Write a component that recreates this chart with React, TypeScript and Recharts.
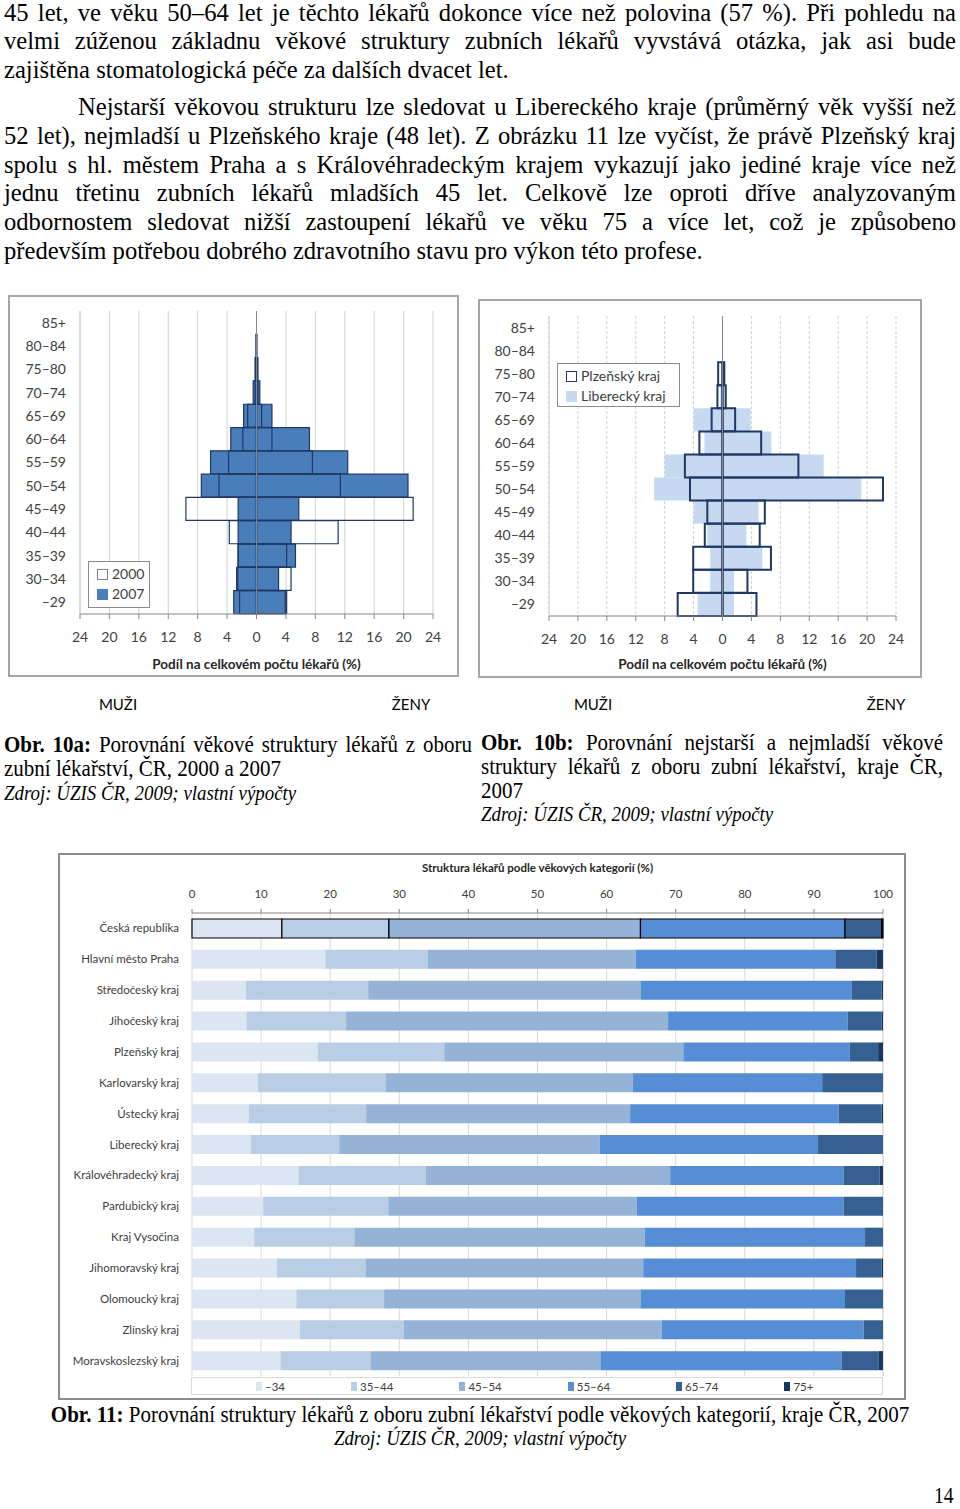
import React from "react";
import {
  Bar,
  BarChart,
  CartesianGrid,
  Cell,
  Legend,
  ReferenceLine,
  XAxis,
  YAxis,
} from "recharts";

// age groups, youngest first
const AGE_GROUPS = ["–29", "30–34", "35–39", "40–44", "45–49", "50–54", "55–59", "60–64", "65–69", "70–74", "75–80", "80–84", "85+"];
const PYRAMID_TICKS = [-24, -20, -16, -12, -8, -4, 0, 4, 8, 12, 16, 20, 24];

// Obr. 10a – ČR, % of all dentists
const MEN_2000 = [2.3, 2.55, 2.5, 3.7, 9.6, 5.1, 3.8, 1.85, 1.2, 0.2, 0.1, 0.05, 0];
const WOMEN_2000 = [3.9, 4.7, 4.1, 11.1, 21.3, 11.4, 7.6, 2.1, 0.7, 0.2, 0.05, 0, 0];
const MEN_2007 = [3.1, 2.7, 2.5, 2.5, 2.5, 7.5, 6.25, 3.5, 1.75, 0.45, 0.2, 0.05, 0];
const WOMEN_2007 = [4.1, 3.0, 5.3, 4.7, 5.75, 20.6, 12.4, 7.2, 2.1, 0.45, 0.2, 0.05, 0];

// Obr. 10b – Plzeňský vs. Liberecký kraj, 2007
const PLZEN_MEN = [6.2, 4.05, 4.05, 2.45, 2.1, 4.5, 5.2, 3.2, 1.5, 0.7, 0.6, 0, 0];
const PLZEN_WOMEN = [4.7, 3.45, 6.7, 5.15, 5.85, 22.2, 10.5, 5.35, 1.75, 0.45, 0.25, 0, 0];
const LIBEREC_MEN = [3.45, 1.7, 1.7, 2.1, 4.0, 9.45, 8.0, 2.5, 4.0, 0.3, 0.2, 0, 0];
const LIBEREC_WOMEN = [1.6, 1.6, 5.5, 3.3, 5.0, 19.2, 14.0, 6.75, 3.9, 0.3, 0.2, 0, 0];

// Obr. 11 – structure by age category (%), regions
const REGIONS = [
  "Česká republika",
  "Hlavní město Praha",
  "Středočeský kraj",
  "Jihočeský kraj",
  "Plzeňský kraj",
  "Karlovarský kraj",
  "Ústecký kraj",
  "Liberecký kraj",
  "Královéhradecký kraj",
  "Pardubický kraj",
  "Kraj Vysočina",
  "Jihomoravský kraj",
  "Olomoucký kraj",
  "Zlínský kraj",
  "Moravskoslezský kraj",
];
const AGE_CATS = ["–34", "35–44", "45–54", "55–64", "65–74", "75+"];
const SHARE_34 = [13.0, 19.3, 7.8, 7.9, 18.2, 9.5, 8.2, 8.5, 15.4, 10.3, 9.0, 12.3, 15.1, 15.6, 12.8];
const SHARE_35_44 = [15.5, 14.8, 17.7, 14.4, 18.3, 18.5, 17.0, 12.8, 18.4, 18.1, 14.5, 12.8, 12.7, 15.0, 13.1];
const SHARE_45_54 = [36.4, 30.1, 39.4, 46.6, 34.6, 35.8, 38.2, 37.7, 35.4, 36.0, 42.0, 40.2, 37.1, 37.4, 33.2];
const SHARE_55_64 = [29.6, 28.9, 30.6, 26.0, 24.1, 27.4, 30.2, 31.6, 25.1, 29.9, 31.9, 30.8, 29.6, 29.2, 34.9];
const SHARE_65_74 = [5.3, 6.0, 4.3, 4.9, 4.1, 8.8, 6.2, 9.4, 5.2, 5.7, 2.6, 3.7, 5.5, 2.8, 5.4];
const SHARE_75 = [0.2, 0.9, 0.2, 0.2, 0.7, 0, 0.2, 0, 0.5, 0, 0, 0.2, 0, 0, 0.6];
const SHARE_TICKS = [0, 10, 20, 30, 40, 50, 60, 70, 80, 90, 100];

const AGE_COLORS = ["#dce6f2", "#b9cde5", "#95b3d7", "#558ed5", "#376092", "#17375e"];
const SANS = "Lato, 'Open Sans', sans-serif";
const SERIF = "'Liberation Serif', 'Times New Roman', serif";
const INK = "#404040";

const pyramidRows = (men1: number[], women1: number[], men2: number[], women2: number[]) =>
  AGE_GROUPS.map((age, i) => ({
    age,
    m1: -men1[i],
    w1: women1[i],
    m2: -men2[i],
    w2: women2[i],
  })).reverse();

const cr10a = pyramidRows(MEN_2007, WOMEN_2007, MEN_2000, WOMEN_2000);
const kraje10b = pyramidRows(LIBEREC_MEN, LIBEREC_WOMEN, PLZEN_MEN, PLZEN_WOMEN);

const shareRows = REGIONS.map((region, i) => ({
  region,
  a: SHARE_34[i],
  b: SHARE_35_44[i],
  c: SHARE_45_54[i],
  d: SHARE_55_64[i],
  e: SHARE_65_74[i],
  f: SHARE_75[i],
}));
const SHARE_KEYS = ["a", "b", "c", "d", "e", "f"];

interface SeriesStyle {
  fill: string;
  stroke?: string;
  strokeWidth?: number;
}

interface LegendItem extends SeriesStyle {
  label: string;
}

interface PyramidProps {
  data: ReturnType<typeof pyramidRows>;
  width: number;
  height: number;
  margin: { top: number; right: number; left: number; bottom: number };
  yWidth: number;
  xHeight: number;
  tickGap: number;
  titleOffset: number;
  back: SeriesStyle;
  front: SeriesStyle;
  legend: LegendItem[];
  legendBox: { left: number; top: number; width: number; height: number };
  gridDash?: string;
}

function PyramidLegend({ items }: { items: LegendItem[] }) {
  return (
    <div
      style={{
        border: "1px solid #8c8c8c",
        background: "#fff",
        boxSizing: "border-box",
        height: "100%",
        padding: "2px 0 0 8px",
        fontFamily: SANS,
        fontSize: 14,
        color: INK,
        lineHeight: "20px",
      }}
    >
      {items.map((it) => (
        <div key={it.label} style={{ display: "flex", alignItems: "center" }}>
          <span
            style={{
              display: "inline-block",
              width: 9,
              height: 9,
              marginRight: 4,
              background: it.fill === "none" ? "#fff" : it.fill,
              border: it.stroke ? `1.5px solid ${it.stroke}` : `1.5px solid ${it.fill}`,
            }}
          />
          {it.label}
        </div>
      ))}
    </div>
  );
}

function Pyramid(p: PyramidProps) {
  return (
    <BarChart
      width={p.width}
      height={p.height}
      data={p.data}
      layout="vertical"
      stackOffset="sign"
      barCategoryGap={0}
      barGap={0}
      margin={p.margin}
    >
      <CartesianGrid horizontal={false} stroke="#d0d0d0" strokeDasharray={p.gridDash} />
      <XAxis
        type="number"
        domain={[-24, 24]}
        ticks={PYRAMID_TICKS}
        tickFormatter={(v) => String(Math.abs(v))}
        tick={{ fontSize: 14, fill: INK, fontFamily: SANS }}
        tickSize={5}
        tickMargin={p.tickGap}
        axisLine={{ stroke: "#868686" }}
        tickLine={{ stroke: "#868686" }}
        height={p.xHeight}
        interval={0}
        label={{
          value: "Podíl na celkovém počtu lékařů (%)",
          position: "insideBottom",
          offset: p.titleOffset,
          style: { fontSize: 13.5, fontWeight: 700, fill: "#262626", fontFamily: SANS },
        }}
      />
      <YAxis
        yAxisId="back"
        type="category"
        dataKey="age"
        width={p.yWidth}
        tick={{ fontSize: 14, fill: INK, fontFamily: SANS }}
        tickSize={0}
        tickMargin={14}
        axisLine={{ stroke: "#d0d0d0" }}
        tickLine={false}
        interval={0}
      />
      <YAxis yAxisId="front" type="category" dataKey="age" hide />
      <ReferenceLine yAxisId="back" x={0} stroke="#868686" />
      <Bar yAxisId="back" dataKey="m1" stackId="back" {...p.back} isAnimationActive={false} />
      <Bar yAxisId="back" dataKey="w1" stackId="back" {...p.back} isAnimationActive={false} />
      <Bar yAxisId="front" dataKey="m2" stackId="front" {...p.front} isAnimationActive={false} />
      <Bar yAxisId="front" dataKey="w2" stackId="front" {...p.front} isAnimationActive={false} />
      <Legend
        layout="horizontal"
        verticalAlign="middle"
        align="center"
        wrapperStyle={{ ...p.legendBox }}
        content={() => <PyramidLegend items={p.legend} />}
      />
    </BarChart>
  );
}

function ShareLegend() {
  return (
    <div
      style={{
        height: "100%",
        boxSizing: "border-box",
        border: "1px solid #d9d9d9",
        display: "flex",
        alignItems: "center",
        gap: 66,
        paddingLeft: 64,
        fontFamily: SANS,
        fontSize: 11.5,
        color: INK,
      }}
    >
      {AGE_CATS.map((c, i) => (
        <span key={c} style={{ display: "flex", alignItems: "center" }}>
          <span style={{ display: "inline-block", width: 6, height: 9, background: AGE_COLORS[i], marginRight: 3 }} />
          {c}
        </span>
      ))}
    </div>
  );
}

// single-line category label (no wrapping)
function RegionTick(props: any) {
  const { x, y, payload } = props;
  return (
    <text x={x} y={y} dy="0.35em" textAnchor="end" fontSize={11.5} fill={INK} fontFamily={SANS}>
      {payload.value}
    </text>
  );
}

function ShareChart() {
  return (
    <BarChart
      width={848}
      height={547}
      data={shareRows}
      layout="vertical"
      barSize={19}
      margin={{ top: 0, right: 23, left: 0, bottom: 24 }}
    >
      <CartesianGrid horizontal={false} stroke="#d9d9d9" xAxisId="top" />
      <XAxis
        xAxisId="top"
        orientation="top"
        type="number"
        domain={[0, 100]}
        ticks={SHARE_TICKS}
        interval={0}
        height={60}
        tick={{ fontSize: 11.5, fill: INK, fontFamily: SANS }}
        tickSize={4}
        tickMargin={11}
        axisLine={{ stroke: "#868686" }}
        tickLine={{ stroke: "#868686" }}
        label={{
          value: "Struktura lékařů podle věkových kategorií (%)",
          position: "insideTop",
          offset: 11,
          style: { fontSize: 11.5, fontWeight: 700, fill: "#262626", fontFamily: SANS },
        }}
      />
      <XAxis
        xAxisId="bottom"
        orientation="bottom"
        type="number"
        domain={[0, 100]}
        height={0}
        tick={false}
        tickLine={false}
        axisLine={{ stroke: "#595959", strokeWidth: 1.5 }}
      />
      <YAxis
        type="category"
        dataKey="region"
        width={134}
        tick={<RegionTick />}
        tickSize={0}
        tickMargin={13}
        axisLine={false}
        tickLine={false}
        interval={0}
      />
      {SHARE_KEYS.map((k, i) => (
        <Bar key={k} xAxisId="top" dataKey={k} stackId="s" fill={AGE_COLORS[i]} isAnimationActive={false}>
          {shareRows.map((r, j) => (
            <Cell key={r.region} stroke={j === 0 ? "#000" : "none"} strokeWidth={j === 0 ? 1.2 : 0} />
          ))}
        </Bar>
      ))}
      <Legend
        layout="horizontal"
        verticalAlign="middle"
        align="center"
        wrapperStyle={{ left: 133, top: 524, width: 692, height: 18 }}
        content={() => <ShareLegend />}
      />
    </BarChart>
  );
}

const P1 = [
  "45 let, ve věku 50–64 let je těchto lékařů dokonce více než polovina (57 %). Při pohledu na",
  "velmi zúženou základnu věkové struktury zubních lékařů vyvstává otázka, jak asi bude",
];
const P1_LAST = "zajištěna stomatologická péče za dalších dvacet let.";
const P2 = [
  "52 let), nejmladší u Plzeňského kraje (48 let). Z obrázku 11 lze vyčíst, že právě Plzeňský kraj",
  "spolu s hl. městem Praha a s Královéhradeckým krajem vykazují jako jediné kraje více než",
  "jednu třetinu zubních lékařů mladších 45 let. Celkově lze oproti dříve analyzovaným",
  "odbornostem sledovat nižší zastoupení lékařů ve věku 75 a více let, což je způsobeno",
];
const P2_FIRST = "Nejstarší věkovou strukturu lze sledovat u Libereckého kraje (průměrný věk vyšší než";
const P2_LAST = "především potřebou dobrého zdravotního stavu pro výkon této profese.";

const justify: React.CSSProperties = { textAlign: "justify", textAlignLast: "justify", whiteSpace: "nowrap" };

function Line({ top, left = 4, width = 952, text, just = true }: { top: number; left?: number; width?: number; text: string; just?: boolean }) {
  return (
    <div
      style={{
        position: "absolute",
        top,
        left,
        width,
        height: 29,
        lineHeight: "29px",
        fontFamily: SERIF,
        fontSize: 24.6,
        color: "#000",
        ...(just ? justify : { whiteSpace: "nowrap" }),
      }}
    >
      {text}
    </div>
  );
}

// condensed caption line (scaled horizontally)
function Cap({
  top,
  left,
  width,
  children,
  just = false,
  italic = false,
  size = 23,
  scale = 0.913,
  center = false,
}: {
  top: number;
  left: number;
  width: number;
  children: React.ReactNode;
  just?: boolean;
  italic?: boolean;
  size?: number;
  scale?: number;
  center?: boolean;
}) {
  return (
    <div
      style={{
        position: "absolute",
        top,
        left,
        width: width / scale,
        transform: `scaleX(${scale})`,
        transformOrigin: "0 0",
        fontFamily: SERIF,
        fontSize: size,
        lineHeight: "24px",
        fontStyle: italic ? "italic" : "normal",
        whiteSpace: "nowrap",
        textAlign: center ? "center" : just ? "justify" : "left",
        textAlignLast: center ? "center" : just ? "justify" : "left",
      }}
    >
      {children}
    </div>
  );
}

const lbl: React.CSSProperties = {
  position: "absolute",
  fontFamily: SANS,
  fontSize: 15,
  color: "#000",
  transform: "translateX(-50%)",
};

export default function App() {
  return (
    <div style={{ position: "absolute", left: 0, top: 0, width: 960, height: 1509, background: "#fff", overflow: "hidden" }}>
      <Line top={-2} text={P1[0]} />
      <Line top={26} text={P1[1]} />
      <Line top={55} text={P1_LAST} just={false} />
      <Line top={92} left={78} width={878} text={P2_FIRST} />
      <Line top={121} text={P2[0]} />
      <Line top={150} text={P2[1]} />
      <Line top={178} text={P2[2]} />
      <Line top={207} text={P2[3]} />
      <Line top={236} text={P2_LAST} just={false} />

      <div style={{ position: "absolute", left: 8, top: 295, width: 451, height: 382, boxSizing: "border-box", border: "2px solid #a6a6a6" }} />
      <div style={{ position: "absolute", left: 8, top: 295 }}>
        <Pyramid
          data={cr10a}
          width={452}
          height={384}
          margin={{ top: 16, right: 27, left: 0, bottom: 0 }}
          yWidth={72}
          xHeight={65}
          tickGap={13}
          titleOffset={10}
          back={{ fill: "#4a7ebb", stroke: "#1f3864", strokeWidth: 1.2 }}
          front={{ fill: "none", stroke: "#1f3864", strokeWidth: 1.2 }}
          legend={[
            { label: "2000", fill: "none", stroke: "#7f7f7f" },
            { label: "2007", fill: "#4a7ebb" },
          ]}
          legendBox={{ left: 80, top: 266, width: 62, height: 47 }}
        />
      </div>

      <div style={{ position: "absolute", left: 478, top: 299, width: 444, height: 379, boxSizing: "border-box", border: "2px solid #a6a6a6" }} />
      <div style={{ position: "absolute", left: 478, top: 299 }}>
        <Pyramid
          data={kraje10b}
          width={444}
          height={379}
          margin={{ top: 17, right: 26, left: 0, bottom: 0 }}
          yWidth={71}
          xHeight={62}
          tickGap={13}
          titleOffset={9}
          gridDash="3 2"
          back={{ fill: "#c6d9f1" }}
          front={{ fill: "none", stroke: "#1f3864", strokeWidth: 2 }}
          legend={[
            { label: "Plzeňský kraj", fill: "none", stroke: "#1f3864" },
            { label: "Liberecký kraj", fill: "#c6d9f1" },
          ]}
          legendBox={{ left: 79, top: 64, width: 123, height: 44 }}
        />
      </div>

      <div style={{ ...lbl, left: 118, top: 695 }}>MUŽI</div>
      <div style={{ ...lbl, left: 411, top: 695 }}>ŽENY</div>
      <div style={{ ...lbl, left: 593, top: 695 }}>MUŽI</div>
      <div style={{ ...lbl, left: 886, top: 695 }}>ŽENY</div>

      <Cap top={733} left={4} width={468} just>
        <b>Obr. 10a:</b> Porovnání věkové struktury lékařů z oboru
      </Cap>
      <Cap top={757} left={4} width={468}>
        zubní lékařství, ČR, 2000 a 2007
      </Cap>
      <Cap top={781} left={4} width={468} italic size={21} scale={0.9}>
        Zdroj: ÚZIS ČR, 2009; vlastní výpočty
      </Cap>
      <Cap top={731} left={481} width={462} just>
        <b>Obr. 10b:</b> Porovnání nejstarší a nejmladší věkové
      </Cap>
      <Cap top={755} left={481} width={462} just>
        struktury lékařů z oboru zubní lékařství, kraje ČR,
      </Cap>
      <Cap top={779} left={481} width={462}>
        2007
      </Cap>
      <Cap top={802} left={481} width={462} italic size={21} scale={0.9}>
        Zdroj: ÚZIS ČR, 2009; vlastní výpočty
      </Cap>

      <div style={{ position: "absolute", left: 58, top: 853, width: 848, height: 547, boxSizing: "border-box", border: "2px solid #8c8c8c" }} />
      <div style={{ position: "absolute", left: 58, top: 853 }}>
        <ShareChart />
      </div>

      <Cap top={1403} left={0} width={960} center>
        <b>Obr. 11:</b> Porovnání struktury lékařů z oboru zubní lékařství podle věkových kategorií, kraje ČR, 2007
      </Cap>
      <Cap top={1426} left={0} width={960} center italic size={21} scale={0.9}>
        Zdroj: ÚZIS ČR, 2009; vlastní výpočty
      </Cap>
      <div
        style={{
          position: "absolute",
          left: 934,
          top: 1484,
          fontFamily: SERIF,
          fontSize: 23,
          lineHeight: "23px",
          transform: "scaleX(0.85)",
          transformOrigin: "0 0",
        }}
      >
        14
      </div>
    </div>
  );
}
